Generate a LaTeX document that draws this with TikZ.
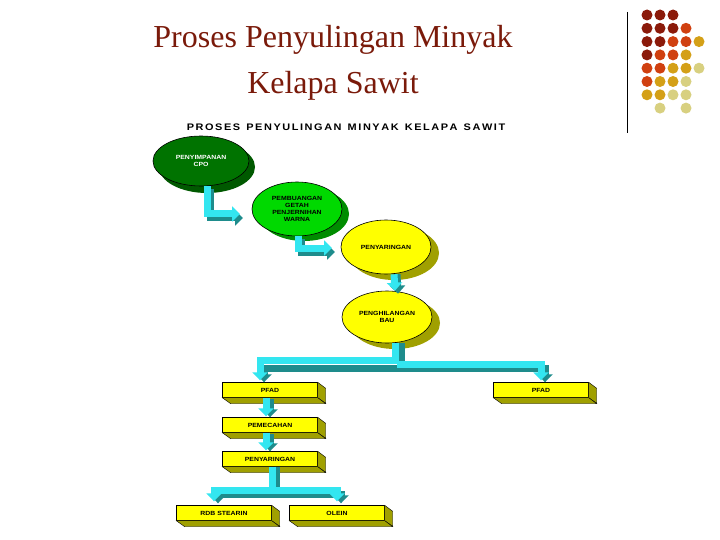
\documentclass[tikz,border=0pt]{standalone}
\usepackage{fontspec}
\setmainfont{Liberation Serif}
\newfontfamily\sansb{Liberation Sans}[FakeStretch=1.15]
\usetikzlibrary{arrows.meta,calc,shapes.geometric}
\definecolor{dk}{HTML}{8B1A0A}
\definecolor{rd}{HTML}{D04010}
\definecolor{og}{HTML}{D4A017}
\definecolor{lt}{HTML}{D8D080}
\definecolor{ttl}{HTML}{7A1A0A}
\definecolor{cy}{HTML}{33E6F0}
\definecolor{tl}{HTML}{1E8C8C}
\definecolor{yl}{HTML}{FFFF00}
\definecolor{ysh}{HTML}{A0A000}
\tikzset{
 x=1pt,y=-1pt,
 lbl/.style={font=\sansb\bfseries\fontsize{6}{7}\selectfont,align=center},
 ell/.style={ellipse,draw=black,line width=0.6pt,minimum width=#1*2pt,inner sep=-4pt},
 boxy/.style={draw=black,fill=yl,minimum width=95pt,minimum height=15pt,inner sep=0pt,font=\sansb\bfseries\fontsize{6}{6.5}\selectfont},
 pipe/.style={line width=7pt,cy,-{Triangle[width=15pt,length=8pt]}},
 pipesh/.style={line width=7pt,tl,-{Triangle[width=15pt,length=8pt]}},
 dot/.style={circle,inner sep=0pt,minimum size=11pt},
 face/.style={draw=black,fill=ysh},
}
\newcommand{\boxdd}[1]{%
 \draw[face] (#1.north east) -- ++(8,6) -- ++(0,15) -- ($(#1.south east)$) -- cycle;
 \draw[face] (#1.south west) -- (#1.south east) -- ++(8,6) -- ++(-95,0) -- cycle;
}
\begin{document}
\begin{tikzpicture}
\useasboundingbox (0,0) rectangle (720,540);
\fill[white] (0,0) rectangle (720,540);
% title
\node[text=ttl,font=\fontsize{32}{46}\selectfont,align=center] (title) at (333,63) {Proses Penyulingan Minyak\\Kelapa Sawit};
% decoration
\draw[line width=0.8pt] (627,12) -- (627,133);
\foreach \r/\row in {0/{dk,dk,dk},1/{dk,dk,dk,rd},2/{dk,dk,rd,rd,og},3/{dk,rd,rd,og},4/{rd,rd,og,og,lt},5/{rd,og,og,lt},6/{og,og,lt,lt},7/{white,lt,white,lt}}{
 \foreach \c [count=\i from 0] in \row {\node[dot,fill=\c] (d\r\i) at (647+13*\i,15+13.3*\r) {};}}
% subtitle
\node[font=\sansb\bfseries\fontsize{9.5}{10}\selectfont] (sub) at (346,127) {P\,R\,O\,S\,E\,S\ \ P\,E\,N\,Y\,U\,L\,I\,N\,G\,A\,N\ \ M\,I\,N\,Y\,A\,K\ \ K\,E\,L\,A\,P\,A\ \ S\,A\,W\,I\,T};
% ellipses with shadows
\fill[green!35!black] (207,167) ellipse (48 and 26);
\node[ell=48,minimum height=50pt,fill=green!45!black,text=white,lbl] (e1) at (201,161) {PENYIMPANAN\\CPO};
\fill[green!55!black] (304,214) ellipse (45 and 27);
\node[ell=45,minimum height=54pt,fill=green!85!black,lbl] (e2) at (297,209) {PEMBUANGAN\\GETAH\\PENJERNIHAN\\WARNA};
\fill[ysh] (394,253) ellipse (45 and 27);
\node[ell=45,minimum height=54pt,fill=yl,lbl] (e3) at (386,247) {PENYARINGAN};
\fill[ysh] (395,323) ellipse (45 and 26);
\node[ell=45,minimum height=52pt,fill=yl,lbl] (e4) at (387,317) {PENGHILANGAN\\BAU};
% boxes
\node[boxy] (b1) at (270,390) {PFAD};
\node[boxy] (b2) at (541,390) {PFAD};
\node[boxy] (b3) at (270,425) {PEMECAHAN};
\node[boxy] (b4) at (270,459) {PENYARINGAN};
\node[boxy] (b5) at (224,513) {RDB STEARIN};
\node[boxy] (b6) at (337,513) {OLEIN};
\foreach \b in {b1,b2,b3,b4,b5,b6}{\boxdd{\b}}
% arrows
\coordinate (a1) at (240,214);
\coordinate (a2) at (332,248);
\draw[pipesh] ($(e1.south)+(9,3)$) |- ($(a1)+(3,4)$);
\draw[pipe] ($(e1.south)+(6,0)$) |- (a1);
\draw[pipesh] ($(e2.south)+(4,3)$) |- ($(a2)+(3,4)$);
\draw[pipe] ($(e2.south)+(1,0)$) |- (a2);
\draw[pipesh] ($(e3.south)+(11,0)$) -- ($(e4.north)+(11,3)$);
\draw[pipe] ($(e3.south)+(8,0)$) -- ($(e4.north)+(8,0)$);
% tree 1
\coordinate (t1) at (397,364);
\draw[tl,line width=7pt] ($(e4.south)+(14,0)$) -- ++(0,20);
\draw[pipesh] (t1) ++(0,4) -| ($(b1.north)+(-6,0)$);
\draw[pipesh] (t1) ++(0,4) -| ($(b2.north)+(4,0)$);
\draw[pipe] ($(e4.south)+(8,0)$) |- ($(b1.north)+(-10,-22)$) -- ($(b1.north)+(-10,-2)$);
\draw[pipe] (t1) -| ($(b2.north)+(0,-2)$);
% short arrows
\draw[pipesh] ($(b1.south)+(0,1)$) -- ($(b3.north)+(0,0)$);
\draw[pipe] ($(b1.south)+(-4,0)$) -- ($(b3.north)+(-4,-1)$);
\draw[pipesh] ($(b3.south)+(0,1)$) -- ($(b4.north)+(0,0)$);
\draw[pipe] ($(b3.south)+(-4,0)$) -- ($(b4.north)+(-4,-1)$);
% tree 2
\coordinate (t2) at (272,490);
\draw[pipesh] ($(b4.south)+(6,0)$) |- ($(t2)+(0,4)$) -| ($(b5.north)+(-6,-2)$);
\draw[pipesh] ($(t2)+(0,4)$) -| ($(b6.north)+(4,-2)$);
\draw[pipe] ($(b4.south)+(2,0)$) |- (t2) -| ($(b5.north)+(-10,-4)$);
\draw[pipe] (t2) -| ($(b6.north)+(0,-4)$);
\end{tikzpicture}
\end{document}
